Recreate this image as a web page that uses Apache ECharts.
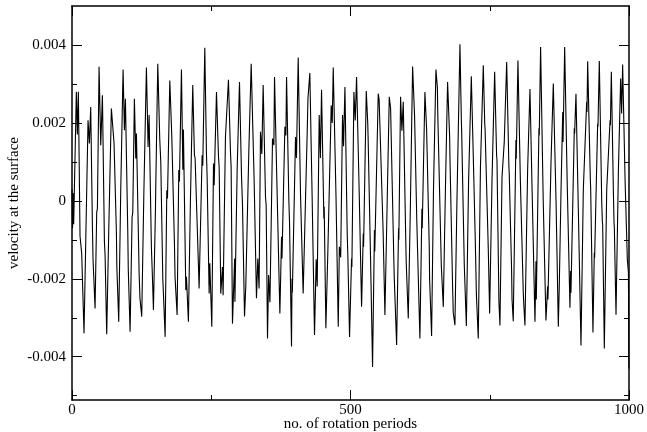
<!DOCTYPE html>
<html>
<head>
<meta charset="utf-8">
<script src="https://cdn.jsdelivr.net/npm/echarts@6/dist/echarts.min.js"></script>
<style>html,body{margin:0;padding:0;background:#fff}#c{width:647px;height:432px}</style>
</head>
<body>
<div id="c"></div>
<script>
// rotation periods (x) and surface velocity (y)
const periods = [
0,1,2,3,7.8,9.6,11.4,14.4,17.4,21.6,
25,28.8,31.2,33.6,36.6,37.8,41.4,44.4,45.6,48.6,51.6,54.6,58.2,59.4,62.3,
66,67.2,70.7,75.5,79.7,80.5,83.9,87.5,91.7,94.1,95.9,100.1,101,104.3,
107.9,109.1,112,114.5,115.7,120.5,122,125.2,129,133.6,136.6,138.4,142.6,144.4,146.2,
149.8,150.4,154,157.6,159.4,163,164.2,167.2,170.2,171.4,175.6,179.2,183.9,185,188.7,
191.7,192.9,196.5,199,200,204.3,205.5,209,212.6,216.8,219.8,221,227,228.2,229.4,
233.6,234.8,238.4,241.4,242.6,246.2,247.4,251,254,255.2,259.4,263,264.2,267.1,270.1,271.3,
275.5,280.9,284.5,285.7,288.1,292,292.5,296.5,300.7,304.3,306.1,309.7,312,
317.5,321.7,327,331.2,333.6,335.9,338.4,340.8,343.2,347.4,348.6,351,353,355.4,
360,362.4,363.6,367.8,373.2,376.2,377,382.2,384,385.2,389.3,390.5,394.1,395,395.6,
401.3,403,406.1,410.3,415,422.2,423.6,427,431,435.4,438.4,440.2,443.8,446,448,
452.2,452.8,455.8,459.4,465.4,467.2,469,474,478,480,482.4,485.7,487.5,490,
494.1,495.3,498.3,501.9,502.5,506.1,508.5,510.9,515.5,519.9,522.9,523.5,528.3,531,531.6,
536,539.6,543,543.6,549.8,551.4,553.4,557.6,558.5,561.8,569.6,572,578,578.5,582.8,
586.3,586.8,589.9,592.3,594.7,599.5,600,603.7,607.3,611.5,615,619,624.6,628.2,628.8,
633.6,636.6,641.4,642,645.6,649,653.4,656,656.6,663,663.6,666.6,670.5,674.3,678,678.6,
683.3,684.5,687.5,691.1,696.5,699,699.6,704.3,708,712,716.9,720.4,724,726,726.6,729.4,
733.3,738.4,741,741.6,746,747.3,749.8,754,758.8,762.3,763,766.5,768.3,772,776,780.4,
784.4,785,789.2,790,792.2,796,797,797.6,800.6,805,810.2,810.8,813.2,818,822.2,826,831.2,
833,833.6,838.3,838.9,841.3,846,850.9,853.9,854.5,860,864.1,869,873.1,874.9,878,881,881.6,
884.5,889,894,895.2,895.8,901.8,902.4,904.8,909,913.8,918,924,924.6,925.8,930.6,931.2,
935.3,937.7,938.3,943.7,944.3,946.7,951,952.1,952.7,955.7,960,966,966.6,968.3,972,973.1,
973.7,976.7,981,985,986.8,988.6,993,997,999,999.6,1000
];
const velocity = [
0.0003,-0.0007,0.0002,-0.0006,0.0028,0.0017,0.0028,-0.0009,-0.00135,-0.0034,
-0.0008,0.00207,0.00147,0.00241,-0.00062,-0.00152,-0.00276,-0.00028,-0.0002,0.00344,0.00143,0.00271,-0.00105,-0.00139,-0.00342,
-0.00075,-0.0007,0.00237,0.00147,-0.0008,-0.0017,-0.0031,0.00027,0.00337,0.00181,0.00262,-0.00075,-0.00174,-0.00336,
-0.00041,-0.0003,0.00262,0.00109,0.00173,-0.00186,-0.0025,-0.00297,0.0002,0.00342,0.00138,0.0022,-0.00122,-0.00195,-0.0028,
-0.00024,0.00036,0.00352,0.00156,0.001,-0.00199,-0.0024,-0.00349,0.00027,0.00006,0.00309,0.00164,-0.00109,-0.00195,-0.00293,
0.00079,0.0005,0.00337,0.0008,0.00183,-0.00229,-0.00195,-0.0031,0.0,0.00297,0.00117,0.0011,-0.00165,-0.00225,-0.00229,
0.00117,0.0009,0.00393,0.00121,0.00062,-0.00238,-0.0016,-0.00323,0.00096,0.0004,0.00279,0.00113,0.00087,-0.00238,-0.0017,-0.00242,
0.00164,0.00311,0.00126,0.00087,-0.00315,-0.00148,-0.00259,0.00079,0.00305,0.00066,-0.00011,-0.00297,-0.0022,
0.0013,0.00352,0.00053,-0.0025,-0.00148,-0.00225,0.00177,0.0012,0.00297,0.0001,-0.00011,-0.00353,-0.0019,-0.0026,
0.0016,0.00143,0.00318,0.0005,-0.00289,-0.00092,-0.00148,0.0019,0.00168,0.00318,0.00002,-0.00053,-0.00374,-0.002,-0.00235,
0.00164,0.0011,0.00368,0.00015,-0.00238,0.00173,0.00262,0.00328,0.0002,-0.00344,-0.0015,-0.0022,0.0022,0.0011,0.00285,
-0.00045,-0.00015,-0.00327,-0.00126,0.00245,0.002,0.00342,0.0001,-0.00323,-0.00118,-0.00145,0.0022,0.0014,0.00292,
-0.00084,-0.00144,-0.00349,-0.00148,-0.0017,0.00279,0.00206,0.00318,0.0003,-0.00272,-0.00084,-0.00118,0.00282,0.00198,0.00164,
-0.00148,-0.00426,-0.00075,-0.0013,0.00275,0.0026,0.00258,-0.00033,-0.00075,-0.00293,0.00267,0.00237,-0.00165,-0.00195,-0.0037,
-0.0007,-0.001,0.00267,0.0018,0.00254,-0.00122,-0.00156,-0.00302,-0.00032,0.00345,0.0022,-0.0005,-0.00353,-0.0002,-0.0007,
0.00279,0.00185,-0.00118,-0.002,-0.00347,0.0003,0.00337,0.0029,0.0023,-0.00165,-0.0017,-0.00272,0.00036,0.00305,0.00164,0.00109,
-0.0022,-0.00287,-0.00319,0.0,0.00402,0.00207,0.00177,-0.00165,-0.00321,0.0005,0.0032,0.00117,-0.001,-0.0024,-0.0026,-0.00353,
0.00087,0.00348,0.00198,0.00185,-0.0005,-0.0012,-0.00289,0.0005,0.00331,0.00117,0.00104,-0.0026,-0.0032,0.0006,0.0015,0.00356,
0.00087,0.0007,-0.00176,-0.00253,-0.00309,0.0006,0.00156,0.00108,0.0036,0.0005,-0.00236,-0.00257,-0.0032,0.0008,0.00287,0.0003,-0.0031,
-0.00155,-0.00253,0.00186,0.00168,0.00395,0.0,-0.00307,-0.00219,-0.00253,0.001,0.00301,0.0,-0.00323,-0.00214,0.0003,0.00228,0.00151,
0.00395,0.0005,-0.00274,-0.0018,-0.00236,0.00186,0.00173,0.00275,-0.0002,-0.00371,0.0003,0.00254,0.00228,0.00358,0.00053,0.00032,
-0.00338,-0.00133,-0.00146,0.00198,0.0019,0.00359,0.0,-0.00052,-0.0006,-0.00379,0.0003,0.00207,0.00194,0.00331,0.0002,-0.00056,
-0.00069,-0.00292,0.0008,0.00314,0.00224,0.0035,0.0005,-0.0015,-0.00185,-0.00398,-0.0043
];
const xTickValues = [0, 500, 1000];
const yTickValues = [-0.004, -0.002, 0, 0.002, 0.004];
const yMinorValues = [-0.005, -0.003, -0.001, 0.001, 0.003];

const font = 'Liberation Serif';
const black = '#000';
const yMin = -0.00511, yMax = 0.005;

const chart = echarts.init(document.getElementById('c'), null, {renderer: 'canvas'});
const pts = periods.map((p, i) => [p, velocity[i]]);

function xAx(pos, labels, name) {
  return {
    type: 'value', position: pos, min: 0, max: 1000, interval: 500,
    name: name || '', nameLocation: 'middle', nameGap: 17, nameMoveOverlap: false,
    nameTextStyle: {fontFamily: font, fontSize: 15, color: black},
    axisLine: {show: true, onZero: false, lineStyle: {color: black, width: 1.5}},
    axisTick: {show: true, inside: true, length: 10, lineStyle: {color: black, width: 1}},
    minorTick: {show: true, splitNumber: 2, length: 5, lineStyle: {color: black, width: 1}},
    axisLabel: {show: labels, fontFamily: font, fontSize: 15, color: black, margin: 3,
      customValues: xTickValues, formatter: v => String(v)},
    splitLine: {show: false}, minorSplitLine: {show: false}
  };
}
function yAx(pos, values, len, labels, line, name) {
  return {
    type: 'value', position: pos, min: yMin, max: yMax,
    name: name || '', nameLocation: 'middle', nameGap: 50, nameMoveOverlap: false,
    nameTextStyle: {fontFamily: font, fontSize: 15, color: black},
    axisLine: {show: line, onZero: false, lineStyle: {color: black, width: 1.5}},
    axisTick: {show: true, inside: true, length: len, customValues: values, lineStyle: {color: black, width: 1}},
    axisLabel: {show: labels, fontFamily: font, fontSize: 15, color: black, margin: 6,
      customValues: values, formatter: v => String(+v.toFixed(3))},
    splitLine: {show: false}
  };
}

chart.setOption({
  animation: false,
  backgroundColor: '#fff',
  grid: {left: 72, right: 18, top: 6, bottom: 32, containLabel: false, outerBoundsMode: 'none'},
  xAxis: [xAx('bottom', true, 'no. of rotation periods'), xAx('top', false)],
  yAxis: [
    yAx('left', yTickValues, 10, true, true, 'velocity at the surface'),
    yAx('left', yMinorValues, 5, false, false),
    yAx('right', yTickValues, 10, false, true),
    yAx('right', yMinorValues, 5, false, false)
  ],
  series: [{
    type: 'line', data: pts, showSymbol: false, symbol: 'none',
    xAxisIndex: 0, yAxisIndex: 0,
    lineStyle: {color: black, width: 1.1}, clip: true
  }]
});
</script>
</body>
</html>
